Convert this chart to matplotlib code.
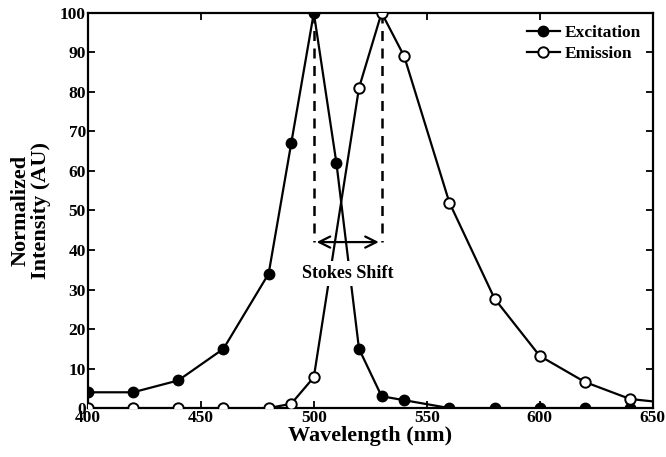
import matplotlib
matplotlib.use("Agg")
import matplotlib.pyplot as plt

plt.rcParams['font.family'] = ['Liberation Serif', 'DejaVu Serif']
plt.rcParams['font.weight'] = 'bold'

exc_x = [400, 420, 440, 460, 480, 490, 500, 510, 520, 530, 540, 560, 580, 600, 620, 640]
exc_y = [4, 4, 7, 15, 34, 67, 100, 62, 15, 3, 2, 0, 0, 0, 0, 0]
em_x = [400, 420, 440, 460, 480, 490, 500, 520, 530, 540, 560, 580, 600, 620, 640, 660]
em_y = [0, 0, 0, 0, 0, 1.1, 7.8, 81, 100, 89, 52, 27.7, 13.2, 6.6, 2.3, 1.1]
xticks = [400, 450, 500, 550, 600, 650]
yticks = [0, 10, 20, 30, 40, 50, 60, 70, 80, 90, 100]
shift_start, shift_end, shift_level = 500, 530, 42

fig = plt.figure(figsize=(6.66, 4.57), dpi=100)
ax = fig.add_axes([0.132, 0.107, 0.848, 0.865])

ax.plot(exc_x, exc_y, '-o', color='black', lw=1.6, ms=7.5, mfc='black',
        mec='black', label='Excitation', zorder=3)
ax.plot(em_x, em_y, '-o', color='black', lw=1.6, ms=7.5, mfc='white',
        mec='black', mew=1.4, label='Emission', zorder=3)

for xv in (shift_start, shift_end):
    ax.plot([xv, xv], [100, shift_level], ls=(0, (4, 3)), color='black', lw=1.8, zorder=2)
ax.annotate('', xy=(shift_start, shift_level), xytext=(shift_end, shift_level),
            arrowprops=dict(arrowstyle='<->', color='black', lw=1.6, mutation_scale=20),
            zorder=4)
ax.text(515, 34, 'Stokes Shift', ha='center', va='center', fontsize=13,
        fontweight='bold', zorder=5,
        bbox=dict(facecolor='white', edgecolor='none', pad=3))

ax.set_xlim(400, 650)
ax.set_ylim(0, 100)
ax.set_xticks(xticks)
ax.set_yticks(yticks)
ax.tick_params(direction='in', top=True, right=True, length=5, width=1.3,
               labelsize=12.5, pad=1.5)
for lab in ax.get_xticklabels() + ax.get_yticklabels():
    lab.set_fontweight('bold')
for s in ax.spines.values():
    s.set_linewidth(1.6)

ax.set_xlabel('Wavelength (nm)', fontsize=16, fontweight='bold', labelpad=0)
ax.set_ylabel('Normalized\nIntensity (AU)', fontsize=16, fontweight='bold',
              labelpad=6, linespacing=1.05)

leg = ax.legend(loc='upper right', frameon=False, fontsize=12.5,
                handlelength=1.9, handletextpad=0.25, borderaxespad=0.3,
                labelspacing=0.25)
for t in leg.get_texts():
    t.set_fontweight('bold')

fig.savefig('out.png', dpi=100)
